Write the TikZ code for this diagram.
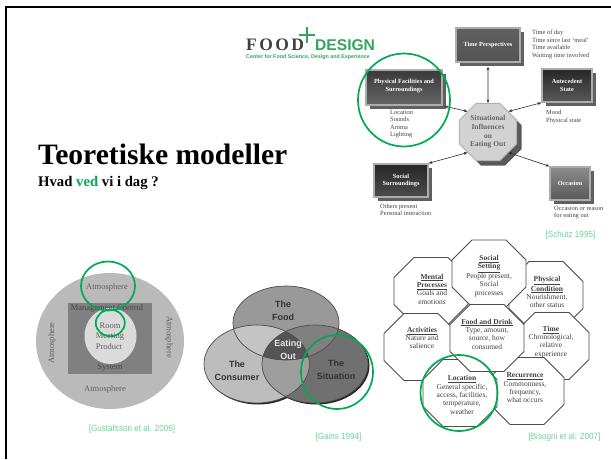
\documentclass[tikz,border=0pt]{standalone}
\usepackage{fontspec}
\setmainfont{Liberation Serif}
\newfontfamily\sansf{Liberation Sans}
\newfontfamily\logof[LetterSpace=14]{Liberation Serif}
\usetikzlibrary{shapes.geometric, shadows, arrows.meta}
\definecolor{ringgreen}{RGB}{0,170,80}
\definecolor{sourcegreen}{RGB}{105,210,150}
\definecolor{logogreen}{RGB}{50,165,95}
\definecolor{atmoouter}{gray}{.73}
\definecolor{atmosquare}{gray}{.5}
\definecolor{atmoinner}{gray}{.86}
\definecolor{vennfood}{gray}{.6}
\definecolor{vennconsumer}{gray}{.74}
\definecolor{vennsituation}{gray}{.44}
\definecolor{vennfc}{gray}{.77}
\definecolor{vennfs}{gray}{.5}
\definecolor{venncs}{gray}{.62}
\definecolor{venncenter}{gray}{.33}
\newcommand{\sourcetext}[1]{\scalebox{.9}[1]{#1}}
\tikzstyle{ring} = [ellipse, draw=ringgreen, line width=1.7pt, inner sep=0pt]
\tikzstyle{source} = [text=sourcegreen, inner sep=0pt, font=\sansf\fontsize{9}{10}\selectfont]
\tikzstyle{mainbox} = [rectangle, draw=gray!65, line width=1.6pt, inner sep=0pt, align=center, text=white, font=\bfseries\fontsize{6.3}{7.6}\selectfont, general shadow={shadow xshift=4pt, shadow yshift=-4pt, fill=gray!75!black, draw=none}]
\tikzstyle{detail} = [inner sep=0pt, align=left, text=black!75, font=\fontsize{6.4}{7.5}\selectfont]
\tikzstyle{twoway} = [{Stealth[length=3.5pt,width=3pt]}-{Stealth[length=3.5pt,width=3pt]}, gray!35!black, line width=.6pt]
\tikzstyle{octoline} = [draw=gray!60!black, fill=white, line width=.9pt]
\tikzstyle{octotext} = [inner sep=0pt, align=center, text=black!75, font=\fontsize{7.5}{8.3}\selectfont]
\tikzstyle{atmo} = [inner sep=0pt, text=black!62, font=\fontsize{8.5}{10}\selectfont]
\tikzstyle{venntext} = [inner sep=0pt, align=center, text=black!80, font=\sansf\bfseries\fontsize{9}{13}\selectfont]
\tikzset{pics/octa/.style={code={
    \draw[octoline] (-37,-13.5) -- (-17,-33.5) -- (17,-33.5) -- (37,-13.5) -- (37,13.5) -- (17,33.5) -- (-17,33.5) -- (-37,13.5) -- cycle;
}}}
\newcommand{\foodpath}{(286,323) ellipse [x radius=53, y radius=37]}
\newcommand{\consumerpath}{(256.7,364) ellipse [x radius=52.7, y radius=39]}
\newcommand{\situationpath}{(315,364) ellipse [x radius=53, y radius=39]}
\newcommand{\head}[1]{\underline{\textbf{#1}}}
\begin{document}
\begin{tikzpicture}[x=1pt, y=-1pt]
    \useasboundingbox (0,0) rectangle (611,459);
    \draw[line width=2.3pt] (6.2,459) -- (6.2,7) -- (611,7);

    % title and logo
    \node (title) [anchor=base west, inner sep=0pt, font=\bfseries\fontsize{29.6}{32}\selectfont] at (38,164) {Teoretiske modeller};
    \node (subtitle) [anchor=base west, inner sep=0pt, font=\bfseries\fontsize{14.7}{16}\selectfont] at (38,186) {Hvad \textcolor{ringgreen}{ved} vi i dag ?};
    \node (food) [anchor=base west, inner sep=0pt, text=black!75, font=\logof\bfseries\fontsize{17.5}{18}\selectfont] at (246,50) {FOOD};
    \node (design) [anchor=base west, inner sep=0pt, text=logogreen, font=\sansf\bfseries\fontsize{15.6}{18}\selectfont] at (315,50) {DESIGN};
    \node (center) [anchor=base west, inner sep=0pt, text=logogreen, font=\sansf\bfseries\fontsize{5.35}{6}\selectfont] at (246,58) {Center for Food Science, Design and Experience};
    \coordinate (plusl) at (299,35);
    \coordinate (plusr) at (315,35);
    \coordinate (plust) at (307,27);
    \coordinate (plusb) at (307,43);
    \draw[logogreen, line width=1.5pt] (plusl) -- (plusr);
    \draw[logogreen, line width=1.5pt] (plust) -- (plusb);

    % situational influences
    \node (time) [mainbox, minimum width=64pt, minimum height=34pt, top color=gray!75!black, bottom color=gray!65!black] at (488,45) {Time Perspectives};
    \node (physical) [mainbox, minimum width=76pt, minimum height=35pt, top color=gray!45!black, bottom color=gray!80!black] at (404,87.5) {Physical Facilities and\\Surroundings\\[-3pt]};
    \node (antecedent) [mainbox, minimum width=50pt, minimum height=33pt, top color=black!85, bottom color=black!65] at (567,85.5) {Antecedent\\State};
    \node (social) [mainbox, minimum width=54pt, minimum height=33pt, top color=black!85, bottom color=black!70] at (401,180.5) {Social\\Surroundings};
    \node (occasion) [mainbox, minimum width=40pt, minimum height=33pt, top color=black!45, bottom color=black!65] at (570,183.5) {Occasion};
    \node (situational) [regular polygon, regular polygon sides=8, minimum size=62pt, inner sep=0pt, draw=gray!60, line width=1pt, fill=gray!35, align=center, text=black!60, font=\bfseries\fontsize{7.5}{8.6}\selectfont, general shadow={shadow xshift=5pt, shadow yshift=-5pt, fill=gray!70!black, draw=none}] at (488,132) {Situational\\Influences\\on\\Eating Out};
    \draw[twoway, shorten <=4pt] (time) -- (situational.north);
    \draw[twoway, shorten <=2pt] (physical.south east) -- (situational.north west);
    \draw[twoway] (antecedent.south west) -- (situational.north east);
    \draw[twoway] (social.north east) -- (situational.south west);
    \draw[twoway] (occasion.north west) -- (situational.south east);
    \node (timedetail) [detail, anchor=north west] at (532,30) {Time of day\\Time since last `meal'\\Time available\\Waiting time involved};
    \node (physicaldetail) [detail, anchor=north west] at (390,110) {Location\\Sounds\\Aroma\\Lighting};
    \node (antecedentdetail) [detail, anchor=north west] at (546,110) {Mood\\Physical state};
    \node (socialdetail) [detail, anchor=north west] at (380,203.5) {Others present\\Personal interaction};
    \node (occasiondetail) [detail, anchor=north west] at (554,206) {Occasion or reason\\for eating out};
    \node (physicalring) [ring, minimum width=92pt, minimum height=93pt] at (404,100) {};
    \node (schutz) [source] at (570.5,235) {\sourcetext{[Schutz 1995]}};

    % atmosphere model
    \fill[atmoouter] (110,341) ellipse [x radius=74, y radius=68];
    \fill[atmosquare] (68,303) rectangle (152,374);
    \fill[atmoinner] (110.5,336) ellipse [x radius=26, y radius=28];
    \node (atmotop) [atmo] at (107,287) {Atmosphere};
    \node (atmoleft) [atmo, rotate=90] at (52,343) {Atmosphere};
    \node (atmoright) [atmo, rotate=-90] at (169,337) {Atmosphere};
    \node (atmobottom) [atmo] at (105,389) {Atmosphere};
    \node (management) [atmo, text=black!72] at (107,308) {Management Control};
    \node (room) [atmo] at (110,326) {Room};
    \node (meeting) [atmo] at (110,337) {Meeting};
    \node (product) [atmo] at (109,347) {Product};
    \node (system) [atmo, text=black!72] at (110,368) {System};
    \node (atmoring) [ring, minimum width=54pt, minimum height=49pt] at (108,286) {};
    \node (roomring) [ring, minimum width=29pt, minimum height=26.5pt] at (110.3,323) {};
    \node (gustafsson) [source] at (132,429) {\sourcetext{[Gustafsson et al. 2006]}};

    % eating out model
    \fill[black!85] (1.5,1.5) ++\consumerpath;
    \fill[black!85] (1.5,1.5) ++\situationpath;
    \fill[vennconsumer] \consumerpath;
    \fill[vennsituation] \situationpath;
    \begin{scope}
        \clip \consumerpath;
        \fill[venncs] \situationpath;
    \end{scope}
    \fill[vennfood] \foodpath;
    \begin{scope}
        \clip \foodpath;
        \fill[vennfc] \consumerpath;
        \fill[vennfs] \situationpath;
        \clip \consumerpath;
        \fill[venncenter] \situationpath;
    \end{scope}
    \draw[black!70, line width=.7pt] \consumerpath;
    \draw[black!70, line width=.7pt] \situationpath;
    \draw[black!70, line width=.7pt] \foodpath;
    \node (thefood) [venntext] at (283,311) {The\\Food};
    \node (theconsumer) [venntext] at (237,370.5) {The\\Consumer};
    \node (eatingout) [venntext, text=white!90!black] at (288,350) {Eating\\Out};
    \node (thesituation) [venntext] at (336,369.5) {The\\Situation};
    \node (situationring) [ring, minimum width=72pt, minimum height=74pt] at (337,372) {};
    \node (gains) [source] at (338.5,437) {\sourcetext{[Gains 1994]}};

    % octagons
    \pic at (431,291) {octa};
    \pic at (546,295) {octa};
    \pic at (489,273.5) {octa};
    \pic at (421,347) {octa};
    \pic at (552,346) {octa};
    \pic at (527,391) {octa};
    \pic at (460,393) {octa};
    \pic at (487,338) {octa};
    \node (mental) [octotext] at (432,289) {\head{Mental}\\\head{Processes}\\Goals and\\emotions};
    \node (condition) [octotext] at (547,292) {\head{Physical}\\\head{Condition}\\Nourishment,\\other status};
    \node (setting) [octotext] at (489,276) {\head{Social}\\\head{Setting}\\People present,\\Social\\processes};
    \node (activities) [octotext] at (422,338) {\head{Activities}\\Nature and\\salience};
    \node (fooddrink) [octotext] at (487,334) {\head{Food and Drink}\\Type, amount,\\source, how\\consumed};
    \node (timebox) [octotext] at (551,342) {\head{Time}\\Chronological,\\relative\\experience};
    \node (recurrence) [octotext] at (525,388) {\head{Recurrence}\\Commonness,\\frequency,\\what occurs};
    \node (location) [octotext] at (462,395) {\head{Location}\\General specific,\\access, facilities,\\temperature,\\weather};
    \node (locationring) [ring, minimum width=77pt, minimum height=76pt] at (459,393) {};
    \node (bisogni) [source] at (564.5,437) {\sourcetext{[Bisogni et al. 2007]}};
\end{tikzpicture}
\end{document}
